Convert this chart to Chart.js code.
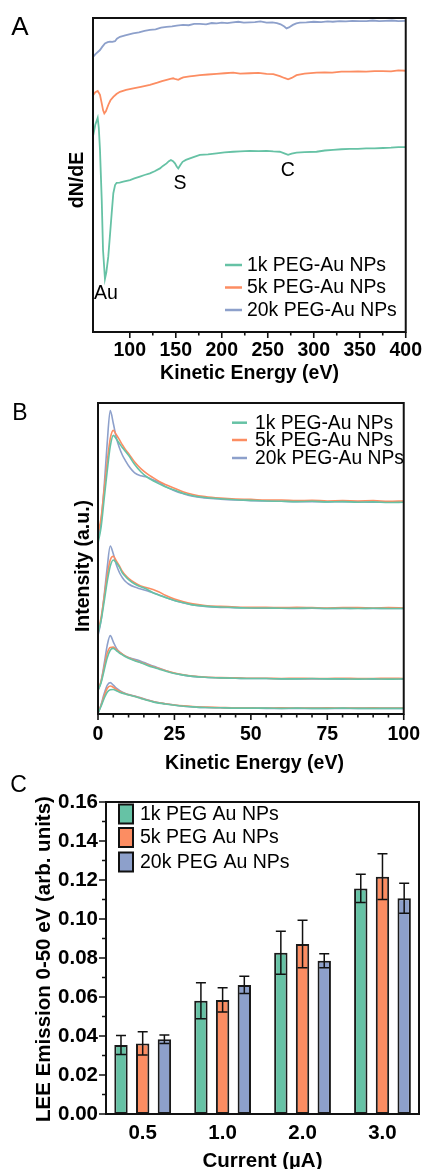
<!DOCTYPE html>
<html>
<head>
<meta charset="utf-8">
<script src="https://cdn.jsdelivr.net/npm/chart.js@4.4.0/dist/chart.umd.min.js"></script>
<style>
  html, body { margin: 0; padding: 0; background: #fff; overflow: hidden; }
  body { width: 429px; height: 1169px; position: relative; }
  .panel { position: absolute; left: 0; width: 429px; }
  #panelA { top: 0; height: 386px; }
  #panelB { top: 380px; height: 396px; }
  #panelC { top: 770px; height: 399px; }
</style>
</head>
<body>
<div class="panel" id="panelA"><canvas id="chartA" width="429" height="386"></canvas></div>
<div class="panel" id="panelB"><canvas id="chartB" width="429" height="396"></canvas></div>
<div class="panel" id="panelC"><canvas id="chartC" width="429" height="399"></canvas></div>
<script>
const seriesNames = ['1k PEG-Au NPs', '5k PEG-Au NPs', '20k PEG-Au NPs'];
const barNames = ['1k PEG Au NPs', '5k PEG Au NPs', '20k PEG Au NPs'];
const colors = ['#66c2a5', '#fc8d62', '#8da0cb'];

// Panel A - Auger spectra (dN/dE, arbitrary offset units)
const auger1kE = [60.3, 62.5, 65.1, 66.3, 67.6, 69.5, 70.9, 73, 74.5, 76.6, 78.5, 80.3, 82.1, 84, 85.7, 89, 92.9, 100.2, 105, 111, 116, 121.9, 127, 132.8, 136, 140, 142.5, 144.7, 147, 149.1, 151, 152.7, 155, 157.4, 161, 165.4, 170, 176.2, 185, 194.4, 203, 212.4, 220, 230.5, 240, 248.7, 256, 263.1, 268, 272.1, 276, 281.3, 290, 303, 312, 321, 330, 339.2, 348, 357, 366, 375.3, 384, 392, 400];
const auger1kV = [62.7, 66.0, 68.2, 65.0, 58.0, 42.0, 26.1, 16.9, 19.0, 24.0, 31.0, 37.8, 44.2, 46.8, 47.5, 47.6, 47.9, 48.4, 48.9, 49.5, 50.0, 50.5, 51.2, 52.1, 52.9, 53.7, 54.4, 54.8, 54.4, 53.7, 52.7, 52.1, 53.2, 54.2, 54.8, 55.3, 55.8, 56.4, 56.6, 56.9, 57.2, 57.4, 57.5, 57.7, 57.6, 57.7, 57.5, 57.4, 56.9, 56.4, 56.8, 57.1, 57.3, 57.4, 57.8, 58.0, 58.2, 58.3, 58.3, 58.5, 58.5, 58.6, 58.7, 58.9, 58.9];
const auger5kE = [60.3, 62.5, 65.1, 67.6, 69.5, 71, 72.3, 74, 76.6, 79, 82.1, 85.5, 89.3, 96, 103.8, 112, 121.9, 130, 135, 140.1, 144, 147.2, 150, 152.7, 155, 158.1, 165, 170, 176.2, 185, 194.4, 203, 212.4, 220, 230.5, 240, 248.7, 256, 263.1, 268, 272.1, 276, 281.3, 290, 303, 312, 320, 330, 339.2, 348, 357, 366, 375, 384, 392, 400];
const auger5kV = [75.5, 76.4, 76.8, 75.5, 72.8, 70.6, 69.6, 70.3, 72.3, 73.8, 74.9, 75.8, 76.5, 77.1, 77.6, 78.1, 78.7, 79.4, 79.9, 80.3, 80.6, 80.8, 80.5, 80.3, 80.7, 81.1, 81.4, 81.6, 81.8, 82.0, 82.2, 82.4, 82.6, 82.3, 82.4, 82.5, 82.2, 82.1, 81.5, 80.9, 80.5, 80.9, 81.8, 82.3, 82.6, 82.7, 82.6, 82.9, 82.9, 83.0, 82.9, 83.1, 83.1, 83.0, 83.3, 83.2];
const auger20kE = [60.3, 63, 67.6, 70, 73, 76, 78.5, 81, 83.9, 86, 89.3, 95, 103.5, 110, 116, 121.9, 128, 134, 140, 146, 151, 157.8, 164, 170, 176.2, 183, 189, 194.4, 200, 206, 212, 218, 224, 230.5, 236, 242, 248.7, 255, 260, 264, 268, 270.4, 273, 277.3, 281, 284.9, 292, 300, 308, 315, 320.7, 328, 335, 342, 350, 357.3, 364, 371, 378, 385, 392, 400];
const auger20kV = [87.7, 88.6, 89.8, 90.8, 91.9, 92.3, 92.5, 92.4, 92.6, 93.4, 94.0, 94.5, 95.1, 95.4, 95.9, 96.2, 96.4, 96.9, 97.2, 97.3, 97.6, 97.8, 97.7, 98.1, 98.1, 98.0, 98.4, 98.3, 98.5, 98.4, 98.6, 98.8, 98.5, 98.6, 98.7, 98.9, 98.5, 98.6, 98.4, 98.0, 97.3, 96.7, 97.0, 97.8, 98.3, 98.5, 98.6, 98.8, 98.7, 98.9, 98.8, 99.0, 98.9, 99.1, 99.0, 99.0, 99.2, 99.0, 99.1, 99.2, 99.0, 99.1];

// Panel B - low energy electron spectra, 4 beam currents (top to bottom: 3.0, 2.0, 1.0, 0.5 uA)
const leeEnergy = [0, 1, 2, 3, 4, 5, 6, 7, 8, 9, 10, 12, 14, 16, 18, 20, 22, 25, 28, 31, 35, 40, 45, 50, 55, 60, 65, 70, 75, 80, 85, 90, 95, 100];
const lee1k_3uA = [54.9, 60, 69, 78, 86, 89.6, 88.4, 87.0, 85.6, 84.4, 83.2, 80.2, 77.9, 76.2, 75.0, 74.0, 73.1, 72.0, 70.9, 70.2, 69.6, 69.2, 68.9, 68.7, 68.5, 68.4, 68.3, 68.4, 68.2, 68.3, 68.1, 68.2, 68.0, 68.1];
const lee5k_3uA = [58.1, 63, 72, 81, 88.5, 91.2, 89.8, 88.2, 86.5, 85.0, 83.8, 81.0, 78.9, 77.3, 76.0, 74.8, 73.8, 72.6, 71.4, 70.6, 69.9, 69.4, 69.1, 69.0, 68.8, 68.8, 68.6, 68.7, 68.5, 68.6, 68.5, 68.6, 68.4, 68.5];
const lee20k_3uA = [56, 62, 73, 87, 97.6, 93.5, 88.8, 85.6, 83.2, 81.4, 79.8, 77.5, 76.6, 76.2, 75.3, 74.5, 73.2, 71.8, 70.8, 70.0, 69.5, 69.1, 68.8, 68.6, 68.5, 68.4, 68.3, 68.3, 68.2, 68.3, 68.2, 68.1, 68.2, 68.1];
const lee1k_2uA = [26.0, 30, 36, 42.5, 47.5, 49.5, 48.6, 47.2, 45.3, 44.2, 43.2, 41.8, 40.9, 40.1, 39.0, 38.2, 37.5, 36.5, 35.8, 35.1, 34.7, 34.4, 34.2, 34.1, 34.1, 34.0, 34.0, 34.1, 33.9, 34.0, 33.9, 34.0, 33.9, 33.9];
const lee5k_2uA = [26.5, 31, 37.5, 44.5, 49.5, 50.7, 49.2, 47.6, 45.8, 44.6, 43.6, 42.2, 41.2, 40.6, 40.0, 39.2, 38.2, 37.0, 36.1, 35.4, 34.9, 34.6, 34.4, 34.3, 34.3, 34.2, 34.3, 34.2, 34.1, 34.2, 34.2, 34.1, 34.2, 34.1];
const lee20k_2uA = [25.2, 30, 38, 47, 54.0, 51.5, 48.0, 45.5, 43.8, 42.6, 41.8, 40.8, 40.2, 39.6, 39.0, 38.3, 37.5, 36.5, 35.7, 35.1, 34.6, 34.3, 34.2, 34.1, 34.0, 34.0, 33.9, 34.0, 33.9, 33.9, 34.0, 33.9, 33.9, 33.9];
const lee1k_1uA = [7.7, 10, 14, 18, 20.5, 21.1, 20.4, 19.6, 19.0, 18.4, 17.9, 17.1, 16.5, 15.7, 15.0, 14.4, 13.8, 13.0, 12.5, 12.1, 11.8, 11.6, 11.5, 11.4, 11.4, 11.3, 11.3, 11.4, 11.3, 11.3, 11.2, 11.3, 11.2, 11.3];
const lee5k_1uA = [7.9, 10.5, 15, 19.5, 21.4, 21.5, 20.7, 19.9, 19.2, 18.6, 18.1, 17.3, 16.6, 15.9, 15.2, 14.6, 14.0, 13.2, 12.6, 12.2, 11.9, 11.7, 11.6, 11.5, 11.5, 11.4, 11.5, 11.4, 11.4, 11.5, 11.4, 11.4, 11.5, 11.4];
const lee20k_1uA = [7.5, 10.5, 16, 22, 25.2, 23.2, 21.2, 20.0, 19.2, 18.6, 18.2, 17.6, 17.0, 16.2, 15.4, 14.7, 14.0, 13.1, 12.5, 12.1, 11.8, 11.6, 11.5, 11.4, 11.4, 11.3, 11.3, 11.3, 11.3, 11.2, 11.3, 11.2, 11.3, 11.3];
const lee1k_05uA = [0.3, 2.5, 5, 7, 7.8, 7.9, 7.5, 7.0, 6.7, 6.4, 6.1, 5.6, 5.0, 4.4, 3.9, 3.5, 3.2, 2.8, 2.5, 2.3, 2.1, 2.0, 1.9, 1.9, 1.9, 1.8, 1.9, 1.8, 1.8, 1.9, 1.8, 1.8, 1.8, 1.8];
const lee5k_05uA = [0.4, 2.8, 5.8, 8.2, 9.0, 8.6, 7.9, 7.3, 6.9, 6.5, 6.2, 5.7, 5.1, 4.5, 4.0, 3.6, 3.3, 2.9, 2.6, 2.4, 2.2, 2.1, 2.0, 2.0, 1.9, 2.0, 1.9, 1.9, 2.0, 1.9, 1.9, 2.0, 1.9, 1.9];
const lee20k_05uA = [0.2, 3, 6.5, 9.2, 10.1, 9.3, 8.3, 7.6, 7.0, 6.6, 6.3, 5.8, 5.2, 4.6, 4.0, 3.6, 3.3, 2.9, 2.5, 2.3, 2.1, 2.0, 1.9, 1.9, 1.8, 1.8, 1.8, 1.8, 1.8, 1.8, 1.8, 1.8, 1.8, 1.8];

// Panel C - integrated LEE emission 0-50 eV
const currents = ['0.5', '1.0', '2.0', '3.0'];
const yield1k = [0.0354, 0.0581, 0.0827, 0.1157];
const yield5k = [0.0362, 0.0585, 0.0872, 0.1217];
const yield20k = [0.0383, 0.0662, 0.0786, 0.1106];
const err1k = [0.0049, 0.0092, 0.0110, 0.0073];
const err5k = [0.0060, 0.0062, 0.0122, 0.0117];
const err20k = [0.0022, 0.0044, 0.0036, 0.0077];

const FONT = "'Liberation Sans', Arial, Helvetica, sans-serif";
Chart.defaults.font.family = FONT;
Chart.defaults.color = '#000';
Chart.defaults.animation = false;

function pts(xs, ys) {
    return xs.map((x, i) => ({ x: x, y: ys[i] }));
}

// frame, tick marks, texts and legend drawn on top of the chart
function overlay(cfg) {
    return {
        id: 'overlay',
        afterDatasetsDraw(chart) {
            if (cfg.errors) {
                const ctx = chart.ctx;
                const ys = chart.scales.y;
                ctx.save();
                ctx.strokeStyle = '#111';
                ctx.lineWidth = 1.5;
                chart.data.datasets.forEach((ds, i) => {
                    chart.getDatasetMeta(i).data.forEach((bar, j) => {
                        const m = ds.data[j].y, e = cfg.errors[i][j];
                        const yHi = ys.getPixelForValue(m + e), yLo = ys.getPixelForValue(m - e);
                        ctx.beginPath();
                        ctx.moveTo(bar.x, yHi); ctx.lineTo(bar.x, yLo);
                        ctx.moveTo(bar.x - 5, yHi); ctx.lineTo(bar.x + 5, yHi);
                        ctx.moveTo(bar.x - 5, yLo); ctx.lineTo(bar.x + 5, yLo);
                        ctx.stroke();
                    });
                });
                ctx.restore();
            }
        },
        afterDraw(chart) {
            const ctx = chart.ctx;
            const a = chart.chartArea;
            const xs = chart.scales.x, ys = chart.scales.y;
            ctx.save();
            ctx.strokeStyle = '#111';
            ctx.lineWidth = 2;
            ctx.strokeRect(a.left, a.top, a.right - a.left, a.bottom - a.top);

            const isStep = (v, s) => Math.abs(v / s - Math.round(v / s)) < 1e-6;
            ctx.lineWidth = 1.6;
            if (cfg.xTicks) {
                const t = cfg.xTicks;
                ctx.beginPath();
                xs.ticks.forEach(tk => {
                    if (!isStep(tk.value, t.minor)) return;
                    const len = isStep(tk.value, t.major) ? t.majorLen : t.minorLen;
                    const px = xs.getPixelForValue(tk.value);
                    ctx.moveTo(px, a.bottom); ctx.lineTo(px, a.bottom + len);
                });
                ctx.stroke();
            }
            if (cfg.yTicks) {
                const t = cfg.yTicks;
                ctx.beginPath();
                for (let k = 0; k <= Math.round(ys.max / t.minor); k++) {
                    const v = k * t.minor;
                    const len = k % 2 === 0 ? t.majorLen : t.minorLen;
                    const py = ys.getPixelForValue(v);
                    ctx.moveTo(a.left, py); ctx.lineTo(a.left - len, py);
                }
                ctx.stroke();
            }

            ctx.fillStyle = '#000';
            ctx.textBaseline = 'middle';
            (cfg.texts || []).forEach(it => {
                ctx.save();
                ctx.font = it.font;
                ctx.textAlign = it.align || 'center';
                let x = it.x, y = it.y;
                if (it.data) { x = xs.getPixelForValue(it.x); y = ys.getPixelForValue(it.y); }
                ctx.translate(x, y);
                if (it.rot) ctx.rotate(it.rot);
                ctx.fillText(it.text, 0, 0);
                ctx.restore();
            });

            if (cfg.legend) {
                const L = cfg.legend;
                ctx.font = L.font;
                ctx.textAlign = 'left';
                L.labels.forEach((lab, i) => {
                    const y = L.rows[i];
                    if (L.box) {
                        ctx.fillStyle = colors[i];
                        ctx.fillRect(L.x0, y - L.boxH / 2, L.x1 - L.x0, L.boxH);
                        ctx.strokeStyle = '#111';
                        ctx.lineWidth = 2;
                        ctx.strokeRect(L.x0, y - L.boxH / 2, L.x1 - L.x0, L.boxH);
                    } else {
                        ctx.strokeStyle = colors[i];
                        ctx.lineWidth = 2.5;
                        ctx.beginPath();
                        ctx.moveTo(L.x0, y); ctx.lineTo(L.x1, y);
                        ctx.stroke();
                    }
                    ctx.fillStyle = '#000';
                    ctx.fillText(lab, L.textX, y + 0.5);
                });
            }
            ctx.restore();
        }
    };
}

const tickFont = { family: FONT, size: 19.5, weight: 'bold' };

// ---------- Panel A ----------
new Chart(document.getElementById('chartA'), {
    type: 'line',
    data: {
        datasets: [
            { label: seriesNames[0], data: pts(auger1kE, auger1kV), borderColor: colors[0] },
            { label: seriesNames[1], data: pts(auger5kE, auger5kV), borderColor: colors[1] },
            { label: seriesNames[2], data: pts(auger20kE, auger20kV), borderColor: colors[2] }
        ]
    },
    options: {
        responsive: false,
        layout: { padding: { left: 93, top: 18, right: 23, bottom: 0 } },
        elements: { point: { radius: 0 }, line: { borderWidth: 1.8, tension: 0 } },
        plugins: { legend: { display: false }, tooltip: { enabled: false } },
        scales: {
            x: {
                type: 'linear', min: 60, max: 400,
                grid: { display: false, drawTicks: false },
                border: { display: false },
                ticks: {
                    stepSize: 25, autoSkip: false, maxRotation: 0, padding: 7, font: tickFont,
                    callback: v => (v % 50 === 0 ? v : '')
                },
                afterFit: s => { s.height = 54; }
            },
            y: { display: false, min: 0, max: 100 }
        }
    },
    plugins: [overlay({
        xTicks: { minor: 25, major: 50, majorLen: 6, minorLen: 3.5 },
        texts: [
            { text: 'A', x: 20, y: 28, font: '26px ' + FONT },
            { text: 'dN/dE', x: 77.5, y: 180, rot: -Math.PI / 2, font: 'bold 19.5px ' + FONT },
            { text: 'Kinetic Energy (eV)', x: 249.5, y: 374, font: 'bold 19.5px ' + FONT },
            { text: 'Au', data: true, x: 74, y: 12.1, font: '19.5px ' + FONT },
            { text: 'S', data: true, x: 154.5, y: 47.3, font: '19.5px ' + FONT },
            { text: 'C', data: true, x: 271.8, y: 51.4, font: '19.5px ' + FONT }
        ],
        legend: { labels: seriesNames, rows: [265, 287.5, 310], x0: 225, x1: 242, textX: 247, font: '19.4px ' + FONT }
    })]
});

// ---------- Panel B ----------
const leeGroups = [
    [lee1k_3uA, lee5k_3uA, lee20k_3uA],
    [lee1k_2uA, lee5k_2uA, lee20k_2uA],
    [lee1k_1uA, lee5k_1uA, lee20k_1uA],
    [lee1k_05uA, lee5k_05uA, lee20k_05uA]
];
const leeDatasets = [];
[2, 1, 0].forEach(s => {
    leeGroups.forEach(g => {
        leeDatasets.push({ label: seriesNames[s], data: pts(leeEnergy, g[s]), borderColor: colors[s], order: s });
    });
});

new Chart(document.getElementById('chartB'), {
    type: 'line',
    data: { datasets: leeDatasets },
    options: {
        responsive: false,
        layout: { padding: { left: 98, top: 23, right: 18, bottom: 0 } },
        elements: { point: { radius: 0 }, line: { borderWidth: 1.6, cubicInterpolationMode: 'monotone' } },
        plugins: { legend: { display: false }, tooltip: { enabled: false } },
        scales: {
            x: {
                type: 'linear', min: 0, max: 100,
                grid: { display: false, drawTicks: false },
                border: { display: false },
                ticks: {
                    stepSize: 5, autoSkip: false, maxRotation: 0, padding: 9, font: tickFont,
                    callback: v => (v % 25 === 0 ? v : '')
                },
                afterFit: s => { s.height = 62; }
            },
            y: { display: false, min: 0, max: 100 }
        }
    },
    plugins: [overlay({
        xTicks: { minor: 5, major: 25, majorLen: 6, minorLen: 3.5 },
        texts: [
            { text: 'B', x: 20, y: 33.5, font: '23px ' + FONT },
            { text: 'Intensity (a.u.)', x: 83.2, y: 186, rot: -Math.PI / 2, font: 'bold 19.5px ' + FONT },
            { text: 'Kinetic Energy (eV)', x: 254.5, y: 383.2, font: 'bold 19.5px ' + FONT }
        ],
        legend: { labels: seriesNames, rows: [42.7, 60, 78], x0: 232, x1: 247, textX: 255, font: '19.3px ' + FONT }
    })]
});

// ---------- Panel C ----------
const yields = [yield1k, yield5k, yield20k];
new Chart(document.getElementById('chartC'), {
    type: 'bar',
    data: {
        datasets: yields.map((arr, i) => ({
            label: barNames[i],
            data: arr.map((v, j) => ({ x: j, y: v })),
            backgroundColor: colors[i],
            borderColor: '#1a1a1a',
            borderWidth: 2,
            borderSkipped: false,
            categoryPercentage: 0.8145,
            barPercentage: 0.617
        }))
    },
    options: {
        responsive: false,
        layout: { padding: { left: 0, top: 32, right: 10, bottom: 0 } },
        plugins: { legend: { display: false }, tooltip: { enabled: false } },
        scales: {
            x: {
                type: 'linear', min: -0.459, max: 3.457, offset: false,
                grid: { display: false, drawTicks: false, offset: false },
                border: { display: false },
                afterBuildTicks: s => { s.ticks = currents.map((c, i) => ({ value: i })); },
                ticks: {
                    autoSkip: false, maxRotation: 0, padding: 7,
                    font: { family: FONT, size: 20.5, weight: 'bold' },
                    callback: v => currents[v]
                },
                afterFit: s => { s.height = 55; }
            },
            y: {
                min: 0, max: 0.16,
                grid: { display: false, drawTicks: false },
                border: { display: false },
                ticks: {
                    stepSize: 0.02, padding: 8,
                    font: { family: FONT, size: 20.5, weight: 'bold' },
                    callback: v => v.toFixed(2)
                },
                afterFit: s => { s.width = 106; }
            }
        }
    },
    plugins: [overlay({
        errors: [err1k, err5k, err20k],
        yTicks: { minor: 0.01, majorLen: 7, minorLen: 4 },
        texts: [
            { text: 'C', x: 18.5, y: 16, font: '23px ' + FONT },
            { text: 'LEE Emission 0-50 eV (arb. units)', x: 44, y: 189, rot: -Math.PI / 2, font: 'bold 20.5px ' + FONT },
            { text: 'Current (\u00b5A)', x: 262.5, y: 391, font: 'bold 20.5px ' + FONT }
        ],
        legend: { box: true, labels: barNames, rows: [44, 67.5, 92], x0: 119, x1: 133, boxH: 19, textX: 140, font: '19.5px ' + FONT }
    })]
});
</script>
</body>
</html>
